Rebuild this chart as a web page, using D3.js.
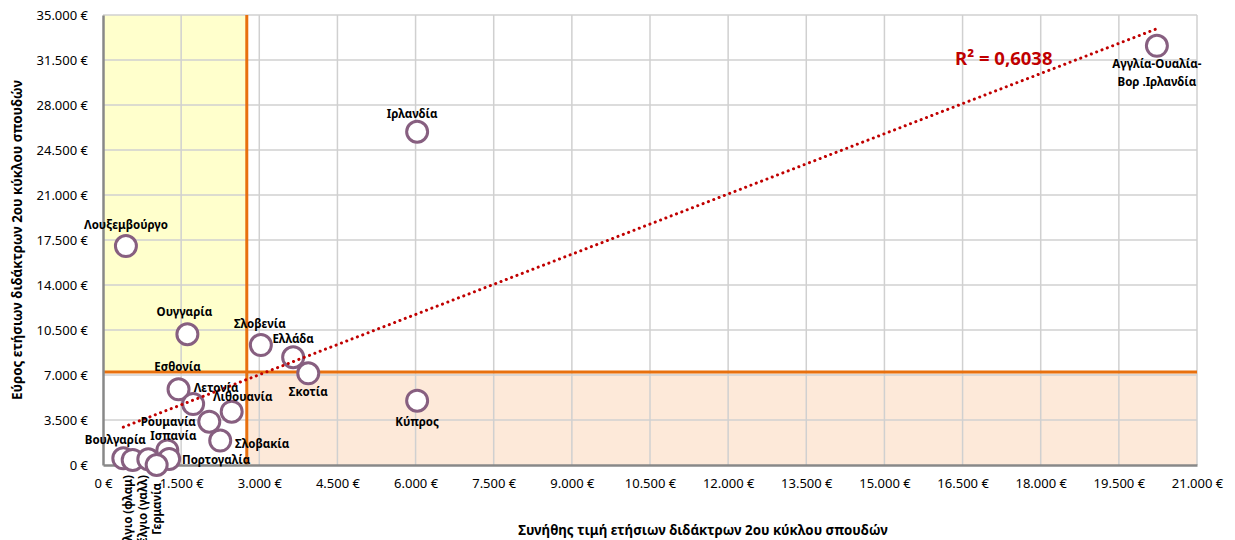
<!DOCTYPE html>
<html>
<head>
<meta charset="utf-8">
<script src="https://cdn.jsdelivr.net/npm/d3@7"></script>
<style>
  html, body { margin: 0; padding: 0; background: #ffffff; }
  svg { display: block; font-family: "Noto Sans", "DejaVu Sans", sans-serif; }
</style>
</head>
<body>
<svg id="chart" width="1235" height="540"></svg>
<script>
// ---------------- data ----------------
const countries = [
  "Αγγλία-Ουαλία-Βορ .Ιρλανδία", "Ιρλανδία", "Λουξεμβούργο", "Ουγγαρία", "Σλοβενία",
  "Ελλάδα", "Σκοτία", "Κύπρος", "Εσθονία", "Λετονία", "Λιθουανία", "Ρουμανία",
  "Σλοβακία", "Ισπανία", "Πορτογαλία", "Βουλγαρία", "Βέλγιο (φλαμ)", "Βέλγιο (γαλλ)", "Γερμανία"
];
// usual annual tuition fee, 2nd cycle (x)
const usualFee = [
  20230, 6030, 440, 1620, 3030,
  3650, 3940, 6030, 1450, 1730, 2470, 2040,
  2250, 1235, 1270, 390, 570, 870, 1030
];
// range of annual tuition fees, 2nd cycle (y)
const feeRange = [
  32600, 25920, 17030, 10170, 9330,
  8380, 7130, 5000, 5890, 4740, 4150, 3370,
  1900, 1130, 470, 520, 390, 440, 0
];
const xTicks = [0, 1500, 3000, 4500, 6000, 7500, 9000, 10500, 12000, 13500, 15000, 16500, 18000, 19500, 21000];
const yTicks = [0, 3500, 7000, 10500, 14000, 17500, 21000, 24500, 28000, 31500, 35000];
const xThreshold = 2760;
const yThreshold = 7240;
const r2Label = "R² = 0,6038";
const xTitle = "Συνήθης τιμή ετήσιων διδάκτρων 2ου κύκλου σπουδών";
const yTitle = "Εύρος ετήσιων διδάκτρων 2ου κύκλου σπουδών";

// label placement (pixel offsets from marker centre) – layout only
const labelOffsets = {
  "Αγγλία-Ουαλία-Βορ .Ιρλανδία": {dx: 0, dy: 18, lines: ["Αγγλία-Ουαλία-", "Βορ .Ιρλανδία"]},
  "Ιρλανδία": {dx: -5, dy: -18},
  "Λουξεμβούργο": {dx: 0, dy: -21},
  "Ουγγαρία": {dx: -3, dy: -22},
  "Σλοβενία": {dx: -1, dy: -21},
  "Ελλάδα": {dx: 0, dy: -18},
  "Σκοτία": {dx: 0, dy: 19},
  "Κύπρος": {dx: 0, dy: 21},
  "Εσθονία": {dx: -1, dy: -22},
  "Λετονία": {dx: 23, dy: -16},
  "Λιθουανία": {dx: 11, dy: -15},
  "Ρουμανία": {dx: -41, dy: 0},
  "Σλοβακία": {dx: 42, dy: 3},
  "Ισπανία": {dx: 6, dy: -14},
  "Πορτογαλία": {dx: 47, dy: 1},
  "Βουλγαρία": {dx: -8, dy: -18},
  "Βέλγιο (φλαμ)": {dx: -5, rotEnd: 475},
  "Βέλγιο (γαλλ)": {dx: -5, rotEnd: 475},
  "Γερμανία": {dx: 0, rotEnd: 483}
};

// ---------------- layout ----------------
const svg = d3.select("#chart");
const margin = {left: 103, top: 15, right: 38, bottom: 75};
const W = 1235, H = 540;
const iw = W - margin.left - margin.right;   // 1094
const ih = H - margin.top - margin.bottom;   // 450

const x = d3.scaleLinear().domain([0, 21000]).range([0, iw]);
const y = d3.scaleLinear().domain([0, 35000]).range([ih, 0]);
const fmt = v => d3.format(",")(v).replace(/,/g, ".") + " €";

const g = svg.append("g").attr("transform", `translate(${margin.left},${margin.top})`);

// shaded quadrants
g.append("rect")
  .attr("x", x(0)).attr("y", y(35000))
  .attr("width", x(xThreshold) - x(0)).attr("height", y(yThreshold) - y(35000))
  .attr("fill", "#FFFFCC");
g.append("rect")
  .attr("x", x(xThreshold)).attr("y", y(yThreshold))
  .attr("width", x(21000) - x(xThreshold)).attr("height", y(0) - y(yThreshold))
  .attr("fill", "#FDE9D9");

// gridlines
g.append("g").selectAll("line").data(xTicks.slice(1)).join("line")
  .attr("x1", d => x(d)).attr("x2", d => x(d))
  .attr("y1", y(0)).attr("y2", y(35000))
  .attr("stroke", "#D0D0D0").attr("stroke-width", 1.5);
g.append("g").selectAll("line").data(yTicks.slice(1)).join("line")
  .attr("x1", x(0)).attr("x2", x(21000))
  .attr("y1", d => y(d)).attr("y2", d => y(d))
  .attr("stroke", "#D0D0D0").attr("stroke-width", 1.5);

// threshold lines
g.append("line")
  .attr("x1", x(0)).attr("x2", x(21000))
  .attr("y1", y(yThreshold)).attr("y2", y(yThreshold))
  .attr("stroke", "#E8700E").attr("stroke-width", 3);
g.append("line")
  .attr("x1", x(xThreshold)).attr("x2", x(xThreshold))
  .attr("y1", y(0)).attr("y2", y(35000))
  .attr("stroke", "#E8700E").attr("stroke-width", 3);

// axes via d3
const xAxis = d3.axisBottom(x).tickValues(xTicks).tickFormat(fmt).tickSize(0).tickPadding(14);
const yAxis = d3.axisLeft(y).tickValues(yTicks).tickFormat(fmt).tickSize(0).tickPadding(15);
const gx = g.append("g").attr("transform", `translate(0,${ih})`).call(xAxis);
const gy = g.append("g").call(yAxis);
[gx, gy].forEach(a => {
  a.select(".domain").attr("stroke", "#888888").attr("stroke-width", 2.5);
  a.selectAll("text").attr("fill", "#000").style("font-size", "13px")
    .style("font-family", "'Noto Sans', sans-serif");
});

// markers
const pts = countries.map((c, i) => ({name: c, x: usualFee[i], y: feeRange[i]}));
g.append("g").selectAll("circle").data(pts).join("circle")
  .attr("cx", d => x(d.x)).attr("cy", d => y(d.y)).attr("r", 10.5)
  .attr("fill", "#ffffff").attr("stroke", "#875F80").attr("stroke-width", 3);

// linear trendline (least squares)
const mx = d3.mean(pts, d => d.x), my = d3.mean(pts, d => d.y);
const sxy = d3.sum(pts, d => (d.x - mx) * (d.y - my));
const sxx = d3.sum(pts, d => (d.x - mx) ** 2);
const slope = sxy / sxx, icpt = my - slope * mx;
const [xmin, xmax] = d3.extent(pts, d => d.x);
g.append("line")
  .attr("x1", x(xmin)).attr("y1", y(icpt + slope * xmin))
  .attr("x2", x(xmax)).attr("y2", y(icpt + slope * xmax))
  .attr("stroke", "#C00000").attr("stroke-width", 3)
  .attr("stroke-linecap", "round").attr("stroke-dasharray", "0.1 5.6");

// data labels
const lg = g.append("g").style("font-size", "11.5px").style("font-weight", "bold").attr("fill", "#000");
pts.forEach(d => {
  const o = labelOffsets[d.name] || {dx: 0, dy: -18};
  const cx = x(d.x), cy = y(d.y);
  if (o.rotEnd !== undefined) {
    lg.append("text")
      .attr("transform", `translate(${cx + o.dx},${o.rotEnd - margin.top}) rotate(-90)`)
      .attr("text-anchor", "end").attr("dy", "0.35em").text(d.name);
  } else if (o.lines) {
    o.lines.forEach((t, k) => {
      lg.append("text").attr("x", cx + o.dx).attr("y", cy + o.dy + k * 18)
        .attr("text-anchor", "middle").attr("dy", "0.35em").text(t);
    });
  } else {
    lg.append("text").attr("x", cx + o.dx).attr("y", cy + o.dy)
      .attr("text-anchor", "middle").attr("dy", "0.35em").text(d.name);
  }
});

// R² label
svg.append("text").attr("x", 955).attr("y", 65)
  .attr("fill", "#C00000").style("font-size", "18.5px").style("font-weight", "bold")
  .text(r2Label);

// axis titles
svg.append("text").attr("x", 703).attr("y", 530).attr("dy", "0.35em")
  .attr("text-anchor", "middle").style("font-size", "13.3px").style("font-weight", "bold")
  .text(xTitle);
svg.append("text").attr("transform", `translate(17,${margin.top + ih / 2}) rotate(-90)`)
  .attr("dy", "0.35em").attr("text-anchor", "middle")
  .style("font-size", "13.3px").style("font-weight", "bold")
  .text(yTitle);
</script>
</body>
</html>
